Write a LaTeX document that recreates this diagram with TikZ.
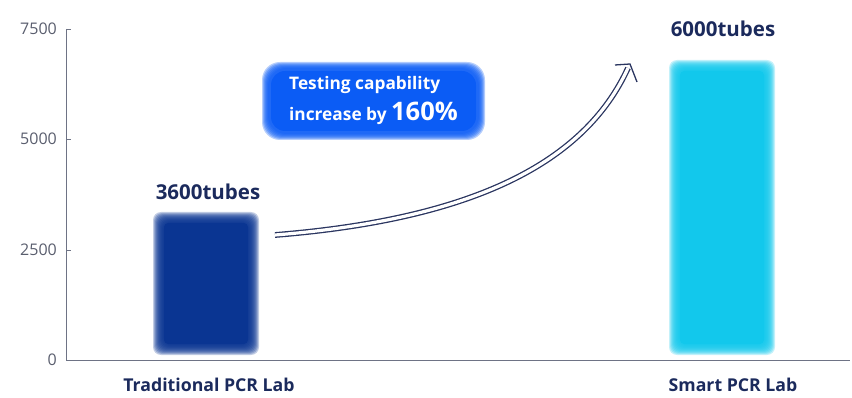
\documentclass[tikz,border=0pt]{standalone}
\usepackage{fontspec}
\setmainfont{Open Sans}
\usepackage{tikz}
\usepackage{xcolor}

\definecolor{navy}{HTML}{1B2A5C}
\definecolor{arrownavy}{HTML}{2A3560}
\definecolor{darkbar}{HTML}{0A3592}
\definecolor{lightbar}{HTML}{12C8EC}
\definecolor{boxblue}{HTML}{0B5CF5}
\definecolor{axisgray}{HTML}{6E7385}
\definecolor{ticktext}{HTML}{5A5E6E}

\tikzset{
  ticklabel/.style={left, text=ticktext, font=\fontsize{16}{16}\selectfont, inner sep=0pt},
  barlabel/.style={text=navy, font=\bfseries\fontsize{20.5}{20}\selectfont, inner sep=0pt},
  catlabel/.style={text=navy, font=\bfseries\fontsize{17.7}{18}\selectfont, inner sep=0pt},
  growth/.style={arrownavy, line width=1.3pt, line join=miter}
}

\begin{document}
\begin{tikzpicture}[x=1pt,y=-1pt]
    \useasboundingbox (0,0) rectangle (852,398);

    % axes
    \draw[axisgray, line width=0.8pt] (66,29) -- (66,360) -- (850,360);
    \foreach \y/\v in {29/7500,139/5000,250/2500,360/0} {
        \draw[axisgray, line width=0.8pt] (66,\y) -- (71,\y);
        \node[ticklabel] (tick\v) at (57,\y) {\v};
    }

    % bars, blurred edges
    \foreach \i in {-5,...,5} {
        \fill[darkbar, opacity=0.25, rounded corners=8] (158+\i,217+\i) rectangle (254-\i,350-\i);
        \fill[lightbar, opacity=0.25, rounded corners=8] (674+\i,65+\i) rectangle (770-\i,350-\i);
    }
    \fill[darkbar, rounded corners=4] (164,223) rectangle (248,344);
    \fill[lightbar, rounded corners=4] (680,71) rectangle (764,344);

    \node[barlabel] (low) at (208,192) {3600tubes};
    \node[barlabel] (high) at (723,29) {6000tubes};
    \node[catlabel] (trad) at (209,385) {Traditional PCR Lab};
    \node[catlabel] (smart) at (733,385) {Smart PCR Lab};

    % increase box
    \foreach \i in {-3,...,3} {
        \fill[boxblue, opacity=0.3, rounded corners=18] (265+\i,65+\i) rectangle (482-\i,137-\i);
    }
    \node[fill=boxblue, rounded corners=14, text=white, align=left,
          minimum width=205, minimum height=60, inner sep=0pt,
          font=\bfseries\fontsize{17.3}{31}\selectfont] (gain) at (373.5,101)
          {Testing capability\\increase by {\fontsize{25.5}{25}\selectfont 160\%}};

    % growth arrow
    \coordinate (from) at (275,235);
    \coordinate (to) at (628,68);
    \coordinate (barbL) at (615,65);
    \coordinate (apex) at (630,64);
    \coordinate (barbR) at (637,82);
    \draw[growth, double=white, double distance=3.2pt]
        (from) .. controls (475,219) and (585,162) .. (to);
    \draw[growth] (barbL) -- (apex) -- (barbR);
\end{tikzpicture}
\end{document}
